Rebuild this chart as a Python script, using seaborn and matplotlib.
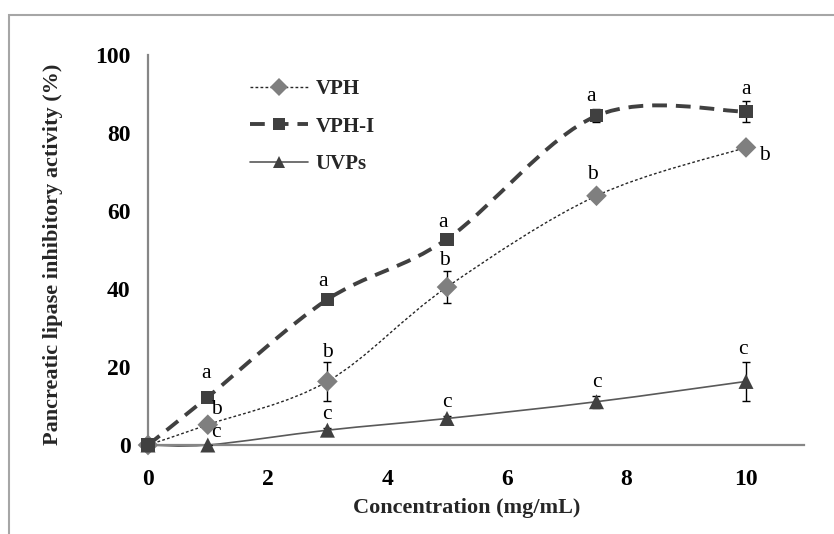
import numpy as np
import pandas as pd
import matplotlib
matplotlib.use("Agg")
import matplotlib.pyplot as plt
from matplotlib.path import Path
from matplotlib.patches import PathPatch, Rectangle
from matplotlib.lines import Line2D
import seaborn as sns

# ---- data ----
concentration = [0, 1, 3, 5, 7.5, 10]
vph = [0, 5.2, 16.3, 40.5, 63.9, 76.3]
vph_err = [0, 0.6, 5.0, 4.1, 0.6, 1.0]
vph_i = [0, 12.3, 37.3, 52.8, 84.4, 85.5]
vph_i_err = [0, 0.5, 0.6, 1.0, 1.7, 2.8]
uvps = [0, 0, 3.8, 6.8, 11.1, 16.3]
uvps_err = [0, 0, 0.5, 0.7, 1.5, 5.0]
vph_letters = ["", "b", "b", "b", "b", "b"]
vph_i_letters = ["", "a", "a", "a", "a", "a"]
uvps_letters = ["", "c", "c", "c", "c", "c"]
series_names = ["VPH", "VPH-I", "UVPs"]
x_ticks = [0, 2, 4, 6, 8, 10]
y_ticks = [0, 20, 40, 60, 80, 100]

# letter offsets (points) relative to each marker
vph_offsets = [(0, 0), (6, 11), (0, 21), (-2, 19), (-3, 15), (13, -6)]
vph_i_offsets = [(0, 0), (-1, 17), (-3, 13), (-3, 12), (-4, 14), (0, 16)]
uvps_offsets = [(0, 0), (6, 9), (0, 11), (0, 11.5), (0, 14), (-2, 23)]

sns.set_style("white")
plt.rcParams["font.family"] = ["Liberation Serif", "DejaVu Serif"]

fig = plt.figure(figsize=(8.34, 5.34), dpi=100)
ax = fig.add_axes([148 / 834, 1 - 445 / 534, (804 - 148) / 834, (445 - 55) / 534])

styles = {
    "VPH": dict(line_color="#262626", lw=1.0, dashes=(2.0, 1.6),
                marker="D", ms=10.5, mcolor="#7f7f7f"),
    "VPH-I": dict(line_color="#404040", lw=2.8, dashes=(3.8, 2.3),
                  marker="s", ms=9.4, mcolor="#404040"),
    "UVPs": dict(line_color="#595959", lw=1.2, dashes=None,
                 marker="^", ms=10.8, mcolor="#404040"),
}
values = {"VPH": vph, "VPH-I": vph_i, "UVPs": uvps}
errors = {"VPH": vph_err, "VPH-I": vph_i_err, "UVPs": uvps_err}
letters = {"VPH": vph_letters, "VPH-I": vph_i_letters, "UVPs": uvps_letters}
offsets = {"VPH": vph_offsets, "VPH-I": vph_i_offsets, "UVPs": uvps_offsets}


def smooth_path(xs, ys):
    """Cubic Bezier path through the points (Catmull-Rom style smoothing)."""
    pts = np.column_stack([xs, ys]).astype(float)
    n = len(pts)
    verts = [pts[0]]
    codes = [Path.MOVETO]
    for i in range(n - 1):
        p0 = pts[max(i - 1, 0)]
        p1 = pts[i]
        p2 = pts[i + 1]
        p3 = pts[min(i + 2, n - 1)]
        c1 = p1 + (p2 - p0) / 6.0
        c2 = p2 - (p3 - p1) / 6.0
        verts += [c1, c2, p2]
        codes += [Path.CURVE4] * 3
    return Path(verts, codes)


# smoothed connecting lines
for name in series_names:
    st = styles[name]
    patch = PathPatch(smooth_path(concentration, values[name]), fill=False,
                      edgecolor=st["line_color"], lw=st["lw"], zorder=2,
                      capstyle="butt", joinstyle="round", clip_on=False)
    if st["dashes"] is not None:
        patch.set_linestyle((0, st["dashes"]))
    ax.add_patch(patch)

# error bars
for name in series_names:
    ax.errorbar(concentration, values[name], yerr=errors[name], fmt="none",
                ecolor="black", elinewidth=1.0, capsize=3.0, capthick=1.0,
                zorder=3, clip_on=False)

# markers
df = pd.DataFrame({
    "conc": concentration * 3,
    "value": vph + vph_i + uvps,
    "sample": sum([[n] * len(concentration) for n in series_names], []),
})
sns.scatterplot(
    data=df, x="conc", y="value", hue="sample", style="sample", size="sample",
    hue_order=series_names, style_order=series_names, size_order=series_names,
    palette={n: styles[n]["mcolor"] for n in series_names},
    markers={n: styles[n]["marker"] for n in series_names},
    sizes={n: styles[n]["ms"] ** 2 for n in series_names},
    linewidth=0, legend=False, ax=ax, zorder=4, clip_on=False,
)

# significance letters
for name in series_names:
    for xv, yv, lab, off in zip(concentration, values[name], letters[name], offsets[name]):
        if lab:
            ax.annotate(lab, (xv, yv), xytext=off, textcoords="offset points",
                        ha="center", va="center", fontsize=15.5, color="black",
                        zorder=5)

# axes styling
ax.set_xlim(0, 10.97)
ax.set_ylim(0, 100)
ax.set_xticks(x_ticks)
ax.set_yticks(y_ticks)
ax.set_xticklabels([str(t) for t in x_ticks])
ax.set_yticklabels([str(t) for t in y_ticks])
for side in ("top", "right"):
    ax.spines[side].set_visible(False)
for side in ("left", "bottom"):
    ax.spines[side].set_color("#868686")
    ax.spines[side].set_linewidth(1.6)
ax.tick_params(axis="both", direction="out", color="#868686", width=1.2,
               length=4.5, labelsize=17, labelcolor="black")
ax.tick_params(axis="y", pad=8.0)
ax.tick_params(axis="x", pad=13)
for lab in ax.get_xticklabels() + ax.get_yticklabels():
    lab.set_fontweight("bold")

ax.set_xlabel("Concentration (mg/mL)", fontsize=16, fontweight="bold")
ax.set_ylabel("Pancreatic lipase inhibitory activity (%)", fontsize=16,
              fontweight="bold")
ax.xaxis.set_label_coords((467 - 148) / 656, -(508 - 445) / 390)
ax.xaxis.label.set_va("center")
ax.yaxis.set_label_coords((53 - 148) / 656, (445 - 254) / 390)
ax.yaxis.label.set_va("center")

# legend
handles = []
for name in series_names:
    st = styles[name]
    h = Line2D([], [], color=st["line_color"], lw=st["lw"],
               marker=st["marker"], markersize=st["ms"] * 0.85,
               markerfacecolor=st["mcolor"], markeredgewidth=0,
               dash_capstyle="butt")
    if st["dashes"] is not None:
        h.set_dashes(st["dashes"])
    handles.append(h)
ax.legend(handles, series_names, loc="upper left",
          bbox_to_anchor=(250 / 834, 1 - 79 / 534), bbox_transform=fig.transFigure,
          frameon=False, prop={"weight": "bold", "size": 15},
          handlelength=2.8, handletextpad=0.35, labelspacing=0.85,
          borderpad=0, borderaxespad=0)

# outer frame
fig.add_artist(Rectangle((9 / 834, -0.1), 1.2, (1 - 15 / 534) + 0.1,
                         transform=fig.transFigure, fill=False,
                         edgecolor="#a6a6a6", lw=1.5))

fig.savefig("out.png", dpi=100)
